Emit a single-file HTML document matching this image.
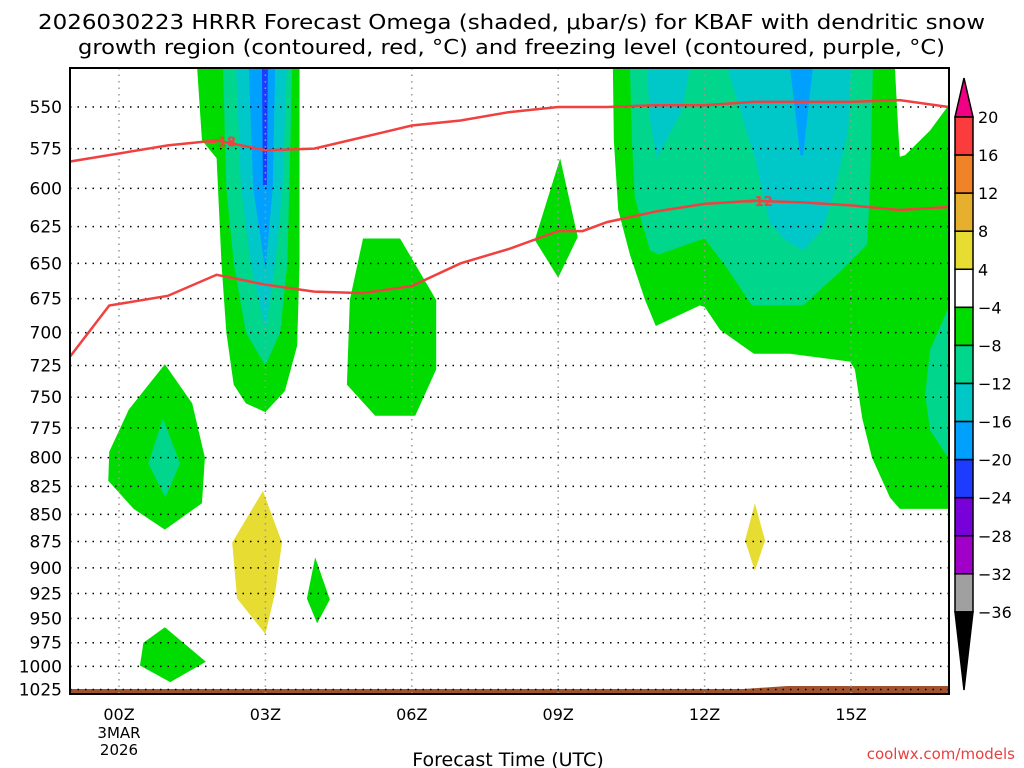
<!DOCTYPE html>
<html><head><meta charset="utf-8"><style>
html,body{margin:0;padding:0;background:#fff;}
svg{display:block;font-family:"DejaVu Sans","Liberation Sans",sans-serif;}
</style></head><body>
<svg id="chart" width="1024" height="768" viewBox="0 0 1024 768" xmlns="http://www.w3.org/2000/svg">
<text x="38" y="29" font-size="20" textLength="947" lengthAdjust="spacingAndGlyphs">2026030223 HRRR Forecast Omega (shaded, μbar/s) for KBAF with dendritic snow</text>
<text x="78" y="54" font-size="20" textLength="867" lengthAdjust="spacingAndGlyphs">growth region (contoured, red, °C) and freezing level (contoured, purple, °C)</text>
<g id="plot"></g>
<text x="508" y="766" font-size="19" text-anchor="middle">Forecast Time (UTC)</text>
<text x="1015" y="759" font-size="15" fill="#e84040" text-anchor="end">coolwx.com/models</text>
</svg>
<script>
const X0=70,X1=949,Y0=68,Y1=694;
const hourTicks=[0,3,6,9,12,15];
const hourLabels=["00Z","03Z","06Z","09Z","12Z","15Z"];
const presTicks=[550,575,600,625,650,675,700,725,750,775,800,825,850,875,900,925,950,975,1000,1025];
const cbLevels=["20","16","12","8","4","\u22124","\u22128","\u221212","\u221216","\u221220","\u221224","\u221228","\u221232","\u221236"];
const cbColors=["#fa3c3c","#f08228","#e6af2d","#e6dc32","#ffffff","#00dc00","#00d68c","#00c8c8","#00a0ff","#1e3cff","#7800d8","#a000c8","#a0a0a0"];
// shaded omega regions: [color, points(hour, hPa)]
const greenPlume=[[1.6,527],[1.7,570],[2.0,581],[2.1,650],[2.2,700],[2.35,740],[2.6,755],[3.0,762],[3.4,745],[3.65,710],[3.7,650],[3.7,527]];
const tealPlume=[[2.13,527],[2.2,600],[2.35,650],[2.6,700],[3.0,725],[3.3,700],[3.45,650],[3.55,527]];
const cyanPlume=[[2.4,527],[2.5,600],[2.7,650],[3.0,698],[3.2,650],[3.35,600],[3.44,527]];
const bluePlume=[[2.66,527],[2.75,600],[3.0,655],[3.15,600],[3.2,527]];
const darkPlume=[[2.93,527],[2.95,598],[3.03,598],[3.05,527]];
const greenLeft=[[0.94,724],[1.5,755],[1.76,800],[1.7,840],[0.94,864],[0.3,845],[-0.22,820],[-0.2,795],[0.2,760]];
const tealLeft=[[0.9,767],[1.25,805],[0.95,835],[0.6,805]];
const greenMid=[[5.0,633],[5.76,633],[6.5,676],[6.5,728],[6.07,765],[5.25,765],[4.67,740],[4.73,676]];
const green09=[[9.04,581],[9.4,632],[9.0,660],[8.52,634]];
const yellow03=[[2.95,829],[3.34,876],[3.2,924],[3.0,966],[2.42,930],[2.32,876]];
const green04=[[4.02,890],[4.32,931],[4.06,955],[3.85,930]];
const yellow13=[[13.03,840],[13.24,874],[13.03,903],[12.83,874]];
const greenLow=[[0.94,959],[1.78,995],[1.05,1017],[0.43,999],[0.5,975]];
const greenRight=[[10.12,527],[10.14,570],[10.23,614],[10.47,644],[10.78,676],[11.0,695],[11.9,680],[12.0,681],[12.32,698],[13.01,716],[13.75,716],[14.98,722],[15.08,728],[15.23,767],[15.43,800],[15.8,835],[16.0,845],[17,845],[17,549],[16.62,564],[16.11,579],[16.0,580],[15.94,549],[15.9,527]];
const tealRight=[[10.47,527],[10.51,570],[10.57,606],[10.88,641],[11.05,644],[11.9,634],[12.0,633],[12.45,653],[12.97,680],[14.02,680],[14.77,656],[15.33,637],[15.39,600],[15.45,527]];
const tealRight2=[[17,681],[16.62,713],[16.52,748],[16.62,777],[17,801]];
const cyanRight1=[[10.82,527],[11.7,527],[11.54,552],[11.02,581],[10.88,558]];
const cyanRight2=[[12.46,527],[15.0,527],[14.94,564],[14.67,601],[14.41,627],[14.02,641],[13.65,634],[13.34,623],[13.03,581],[12.73,552]];
const blueRight=[[13.75,527],[14.22,527],[14.02,579],[13.96,579]];
// -18 and -12 isotherms (hour, hPa)
const iso18=[[-1,583],[0,578],[1,573],[2,570],[3,576],[4,575],[5,568],[6,561],[7,558],[8,553],[9,550],[10,550],[11,549],[12,549],[13,547],[14,547],[15,547],[16,546],[17,550]];
const iso12=[[-1,718],[-0.2,680],[1,673],[2,658],[3,665],[4,670],[5,671],[6,666],[7,650],[8,640],[9,628],[9.5,628],[10,622],[11,615],[12,610],[13,608],[14,609],[15,611],[16,614],[17,612]];

const NS="http://www.w3.org/2000/svg";
const plot=document.getElementById('plot');
const xs=h=>119+h*48.8;
const ys=p=>107+Math.log(p/550)/0.0010687;
function mk(tag,attrs,parent){const e=document.createElementNS(NS,tag);for(const k in attrs)e.setAttribute(k,attrs[k]);(parent||plot).appendChild(e);return e;}
const defs=mk('defs',{});
const cp=mk('clipPath',{id:'clip'},defs);mk('rect',{x:X0,y:Y0,width:X1-X0,height:Y1-Y0},cp);
const g=mk('g',{'clip-path':'url(#clip)'});
const shades=[["#00dc00",greenPlume,"plume-green"],["#00d68c",tealPlume,"plume-teal"],["#00c8c8",cyanPlume,"plume-cyan"],["#00a0ff",bluePlume,"plume-blue"],["#1e3cff",darkPlume,"plume-darkblue"],
["#00dc00",greenLeft,"left-green"],["#00d68c",tealLeft,"left-teal"],["#00dc00",greenMid,"mid-green"],["#00dc00",green09,"green-09z"],["#e6dc32",yellow03,"yellow-03z"],["#00dc00",green04,"green-04z"],["#e6dc32",yellow13,"yellow-13z"],["#00dc00",greenLow,"low-green"],
["#00dc00",greenRight,"right-green"],["#00d68c",tealRight,"right-teal"],["#00d68c",tealRight2,"right-teal-2"],["#00c8c8",cyanRight1,"right-cyan-1"],["#00c8c8",cyanRight2,"right-cyan-2"],["#00a0ff",blueRight,"right-blue"]];
shades.forEach(s=>{
 const e=mk('polygon',{points:s[1].map(q=>xs(q[0])+','+ys(q[1])).join(' '),fill:s[0]},g);
 
 
});
// ground
const gr=mk('polygon',{points:`${X0},689 ${xs(12.8)},689 ${xs(13.7)},686 ${X1},686 ${X1},${Y1} ${X0},${Y1}`,fill:'#a0522d'},g);


// grid
hourTicks.forEach((h,i)=>{
 const l=mk('line',{x1:xs(h),x2:xs(h),y1:Y0,y2:Y1,stroke:'#999','stroke-width':1.5,'stroke-dasharray':'1.5 5'},g);
 
 
 const t=mk('text',{x:xs(h),y:720,'font-size':16,'text-anchor':'middle'});
 t.textContent=hourLabels[i];
 
 
});
presTicks.forEach(p=>{
 const l=mk('line',{x1:X0,x2:X1,y1:ys(p),y2:ys(p),stroke:'#000','stroke-width':1.5,'stroke-dasharray':'1.5 6'},g);
 
 
 const t=mk('text',{x:62,y:ys(p)+6,'font-size':17,'text-anchor':'end'});
 t.textContent=p;
 
 
});
[["3MAR",738],["2026",755]].forEach(a=>{const t=mk('text',{x:xs(0),y:a[1],'font-size':15,'text-anchor':'middle'});t.textContent=a[0];
 
 });
// isotherms
[[iso18,"isotherm-minus18","\u221218",2.1],[iso12,"isotherm-minus12","\u221212",13.1]].forEach(s=>{
 const e=mk('polyline',{points:s[0].map(q=>xs(q[0])+','+ys(q[1])).join(' '),fill:'none',stroke:'#f04040','stroke-width':2.5},g);
 
 
 let pv=s[0][0][1];for(let i=1;i<s[0].length;i++){if(s[0][i][0]>=s[3]){const a=s[0][i-1],b=s[0][i];pv=a[1]+(b[1]-a[1])*(s[3]-a[0])/(b[0]-a[0]);break;}}
 mk('rect',{x:xs(s[3])-14,y:ys(pv)-7,width:28,height:14,fill:'none'},g);
 const t=mk('text',{x:xs(s[3]),y:ys(pv)+5,'font-size':13,'font-weight':'bold',fill:'#f04040','text-anchor':'middle'},g);
 t.textContent=s[2];
 
 
});
const fr=mk('rect',{x:X0,y:Y0,width:X1-X0,height:Y1-Y0,fill:'none',stroke:'#000','stroke-width':2});


// colorbar
const cb=mk('g',{});


const CX=955,CW=18,CT=117,CH=38.07;
mk('polygon',{points:`${CX},${CT} ${CX+CW},${CT} ${CX+CW/2},78`,fill:'#f00082',stroke:'#000','stroke-width':1.5},cb);
cbColors.forEach((c,i)=>{const r=mk('rect',{x:CX,y:CT+i*CH,width:CW,height:CH,fill:c,stroke:'#000','stroke-width':1.5},cb);
 
 });
mk('polygon',{points:`${CX},${CT+13*CH} ${CX+CW},${CT+13*CH} ${CX+CW/2},690`,fill:'#000',stroke:'#000','stroke-width':1.5},cb);
cbLevels.forEach((l,i)=>{const t=mk('text',{x:978,y:CT+i*CH+6,'font-size':16},cb);t.textContent=l;
 
 });
</script>
</body></html>
